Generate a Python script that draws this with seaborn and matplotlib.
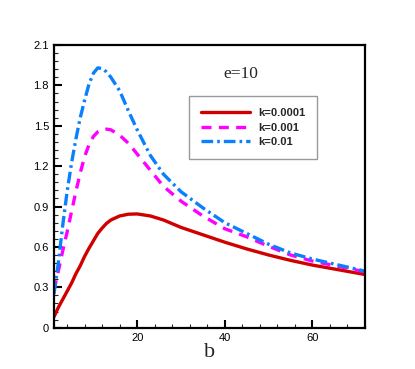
import numpy as np
import pandas as pd
import matplotlib
matplotlib.use("Agg")
import matplotlib.pyplot as plt
from matplotlib.ticker import MultipleLocator, FixedLocator, FuncFormatter
import seaborn as sns

b = [1, 2, 3, 4, 5, 6, 7, 8, 9, 10, 11, 12, 13, 14, 16, 18, 20, 23, 26, 30,
     35, 40, 45, 50, 55, 60, 66, 72]
k_0001 = [0.08, 0.15, 0.21, 0.27, 0.33, 0.40, 0.46, 0.53, 0.59, 0.645, 0.70,
          0.74, 0.775, 0.80, 0.83, 0.843, 0.845, 0.83, 0.80, 0.745, 0.69,
          0.635, 0.585, 0.54, 0.50, 0.465, 0.43, 0.395]
k_001 = [0.28, 0.42, 0.57, 0.71, 0.86, 1.01, 1.15, 1.27, 1.36, 1.42, 1.455,
         1.47, 1.475, 1.47, 1.43, 1.37, 1.29, 1.17, 1.05, 0.94, 0.83, 0.735,
         0.675, 0.605, 0.54, 0.495, 0.455, 0.415]
k_01 = [0.25, 0.48, 0.76, 1.01, 1.22, 1.40, 1.56, 1.69, 1.81, 1.89, 1.93,
        1.925, 1.90, 1.86, 1.76, 1.61, 1.47, 1.28, 1.14, 1.01, 0.89, 0.78,
        0.70, 0.62, 0.555, 0.51, 0.465, 0.42]
labels = ["k=0.0001", "k=0.001", "k=0.01"]
series = [k_0001, k_001, k_01]

sns.set_style("white")
plt.rcParams['font.family'] = ['Liberation Sans', 'DejaVu Sans']

fig = plt.figure(figsize=(4.15, 3.69), dpi=100)
ax = fig.add_axes([0.130, 0.112, 0.7495, 0.766])

colors = ["#D00000", "#FF00FF", "#0A80FF"]
styles = ["-", (0, (3.0, 2.2)), (0, (3.5, 1.2, 0.8, 1.2))]

for lab, ys, c, ls in zip(labels, series, colors, styles):
    df = pd.DataFrame({"b": b, "v": ys})
    sns.lineplot(data=df, x="b", y="v", ax=ax, color=c, lw=2.4,
                 linestyle=ls, label=lab)

ax.set_xlim(1, 72)
ax.set_ylim(0, 2.1)
ax.xaxis.set_major_locator(FixedLocator([20, 40, 60]))
ax.xaxis.set_minor_locator(MultipleLocator(4))
ax.yaxis.set_major_locator(MultipleLocator(0.3))
ax.yaxis.set_minor_locator(MultipleLocator(0.06))
ax.yaxis.set_major_formatter(FuncFormatter(lambda v, p: "0" if abs(v) < 1e-9 else f"{v:.1f}"))
ax.xaxis.set_major_formatter(FuncFormatter(lambda v, p: f"{v:.0f}"))
ax.tick_params(axis="both", which="major", direction="in", length=6, width=1.5,
               labelsize=8, colors="black", bottom=True, left=True, top=False, right=False)
ax.tick_params(axis="both", which="minor", direction="in", length=3, width=0.8,
               bottom=True, left=True, top=False, right=False)
for s in ax.spines.values():
    s.set_linewidth(1.6)
    s.set_color("black")

ax.set_ylabel("")
ax.set_xlabel("b", fontsize=16, family=["Liberation Serif"], labelpad=0)

fig.text(241 / 415, 1 - 74 / 369, "e=10", fontsize=12.5,
         family=["Liberation Serif"], ha="center", va="center")

leg = ax.legend(loc="upper left", bbox_to_anchor=(189 / 415, 1 - 96 / 369),
                bbox_transform=fig.transFigure, frameon=True, fancybox=False,
                edgecolor="#999999", framealpha=1, borderpad=1.1,
                borderaxespad=0, handlelength=4.4, handletextpad=0.7,
                labelspacing=0.4,
                prop={"weight": "bold", "size": 8})
leg.get_frame().set_linewidth(1.0)

fig.savefig("out.png", dpi=100)
